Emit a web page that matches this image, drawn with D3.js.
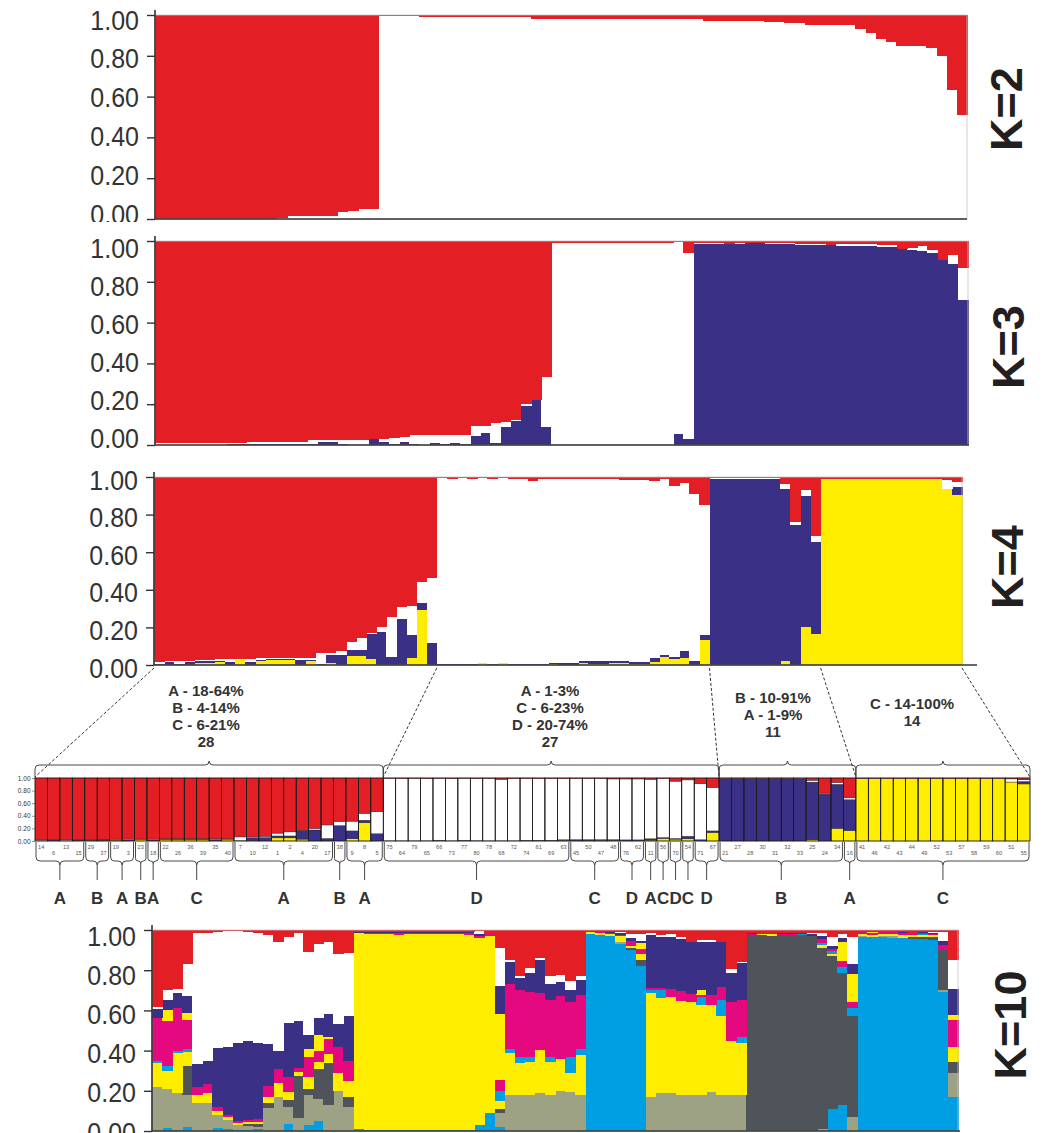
<!DOCTYPE html>
<html>
<head>
<meta charset="utf-8">
<script src="https://cdn.jsdelivr.net/npm/d3@7"></script>
<style>
body { margin: 0; background: #fff; }
svg { display: block; font-family: "Liberation Sans", Arial, sans-serif; }
</style>
</head>
<body>
<svg id="chart" width="1044" height="1133"></svg>
<script>
var tickValues = [0, 0.2, 0.4, 0.6, 0.8, 1.0];

// K=2 : [white, red]
var k2Colors = ["#ffffff", "#e31e24"];
var k2Rows = [
  [0,1],[0,1],[0,1],[0,1],[0,1],[0,1],[0,1],[0,1],[0,1],[0,1],[0,1],[0,1],
  [.005,.995],[.015,.985],[.015,.985],[.015,.985],[.015,.985],[.015,.985],
  [.035,.965],[.04,.96],[.05,.95],[.05,.95],
  [.995,.005],[.995,.005],[.995,.005],[.995,.005],
  [.99,.01],[.99,.01],[.99,.01],[.99,.01],[.99,.01],[.99,.01],[.99,.01],[.99,.01],[.99,.01],[.99,.01],[.99,.01],
  [.98,.02],[.98,.02],[.98,.02],[.98,.02],[.98,.02],[.98,.02],[.98,.02],[.98,.02],[.98,.02],
  [.98,.02],[.98,.02],[.98,.02],[.98,.02],[.98,.02],[.98,.02],[.98,.02],[.98,.02],
  [.973,.027],[.973,.027],[.973,.027],[.973,.027],[.973,.027],[.973,.027],
  [.965,.035],[.965,.035],[.96,.04],[.96,.04],
  [.95,.05],[.95,.05],[.95,.05],[.95,.05],[.95,.05],
  [.93,.07],[.91,.09],[.88,.12],[.87,.13],[.85,.15],[.85,.15],[.85,.15],[.84,.16],[.8,.2],[.63,.37],[.51,.49]
];

// K=3 : [blue, white, red]
var k3Colors = ["#3a3186", "#ffffff", "#e31e24"];
var k3Rows = [
  [0,.008,.992],[0,.008,.992],[0,.008,.992],[0,.008,.992],[0,.008,.992],[0,.008,.992],[0,.008,.992],
  [.005,.005,.99],[.005,.005,.99],
  [.005,.01,.985],[.005,.01,.985],[.005,.01,.985],[.005,.01,.985],[.005,.01,.985],[.005,.01,.985],
  [.005,.02,.975],[.015,.01,.975],[.015,.01,.975],[.005,.02,.975],[0,.025,.975],[0,.025,.975],
  [.03,0,.97],[.015,.015,.97],[.005,.03,.965],[.015,.025,.96],[.005,.042,.953],[0,.047,.953],
  [.01,.037,.953],[.005,.042,.953],[.01,.037,.953],[.005,.042,.953],
  [.045,.05,.905],[.06,.035,.905],[.01,.1,.89],[.09,.025,.885],[.12,.005,.875],[.19,.01,.8],[.22,0,.78],[.09,.245,.665],
  [0,.992,.008],[0,.992,.008],[0,.992,.008],[0,.992,.008],[0,.992,.008],[0,.992,.008],
  [0,.992,.008],[0,.992,.008],[0,.992,.008],[0,.992,.008],[0,.992,.008],[0,.992,.008],
  [.055,.94,.005],[.03,.91,.06],
  [.985,.005,.01],[.985,.005,.01],[.985,.005,.01],[.985,0,.015],[.985,.005,.01],[.988,0,.012],[.988,0,.012],
  [.985,.005,.01],[.985,.005,.01],[.985,.005,.01],[.98,.005,.015],[.98,.005,.015],[.98,.005,.015],[.98,0,.02],
  [.975,.01,.015],[.975,.01,.015],[.975,.01,.015],[.975,.01,.015],[.97,.01,.02],[.97,.01,.02],
  [.96,0,.04],[.955,.01,.035],[.95,.025,.025],[.94,.015,.045],[.905,0,.095],[.885,.045,.07],[.71,.16,.13]
];

// K=4 : [yellow, blue, white, red]
var k4Colors = ["#ffed00", "#3a3186", "#ffffff", "#e31e24"];
var k4Rows = [
  [0,.005,.013,.982],[0,.015,.005,.98],[0,.005,.015,.98],[0,.015,.005,.98],[.012,.008,.005,.975],
  [.008,.015,.002,.975],[.015,.005,.01,.97],[0,.015,.015,.97],[.025,0,.005,.97],[0,.015,.015,.97],
  [.02,.008,.007,.965],[.025,.005,.005,.965],[.025,.005,.005,.965],[.025,.005,.005,.965],[0,.025,.01,.965],
  [.02,.005,.01,.965],[0,.005,.06,.935],[.008,.045,.012,.935],[0,.055,.02,.925],[.05,.03,.045,.875],
  [.05,.03,.065,.855],[.03,.135,.005,.83],[0,.175,.025,.8],[0,.04,.215,.745],[0,.245,.065,.69],
  [.035,.125,.155,.685],[.29,.04,.11,.56],[0,.115,.35,.535],
  [0,.003,.992,.005],[0,.003,.987,.01],[0,.003,.992,.005],[0,.003,.987,.01],[.01,.003,.982,.005],
  [0,.003,.987,.01],[.01,.003,.982,.005],[0,.005,.985,.01],[0,.003,.987,.01],[0,.003,.977,.02],
  [0,.003,.987,.01],[.005,.007,.978,.01],[0,.012,.978,.01],[0,.012,.978,.01],[.01,.01,.97,.01],
  [.005,.017,.968,.01],[.005,.017,.968,.01],[.012,.01,.968,.01],[.012,.01,.963,.015],[.005,.013,.967,.015],
  [.005,.013,.967,.015],[.015,.02,.945,.02],[.04,.015,.935,.01],[.03,.01,.91,.05],[.035,.04,.895,.03],
  [0,.02,.89,.09],[.135,.025,.69,.15],
  [0,.99,.005,.005],[0,.99,.005,.005],[0,.99,.005,.005],[0,.99,.005,.005],[0,.99,.005,.005],[0,.99,.005,.005],[0,.99,.005,.005],
  [.02,.915,.03,.035],[0,.745,.015,.24],[.2,.7,.03,.07],[.165,.49,.03,.315],
  [.99,0,0,.01],[.99,0,0,.01],[.99,0,0,.01],[.99,0,0,.01],[.99,0,0,.01],[.99,0,0,.01],
  [.99,0,0,.01],[.99,0,0,.01],[.99,0,0,.01],[.99,0,0,.01],[.99,0,0,.01],[.99,0,0,.01],
  [.936,0,.05,.014],[.906,.039,.027,.028]
];

// K=10 : [cyan, khaki, dark grey, yellow, cyan b, magenta, yellow b, blue, white, red]
var k10Colors = ["#009fe3", "#9ca283", "#4e5459", "#ffed00", "#009fe3", "#e5097f", "#ffed00", "#3a3186", "#ffffff", "#e31e24"];
var k10Rows = [
  [0,.22,0,.12,.01,.21,0,.045,.01,.385],
  [.013,.194,0,.093,.025,.222,.053,.05,.05,.3],
  [.005,.185,0,.2,.01,.21,0,.075,.02,.295],
  [.02,.16,.143,.072,.011,.146,.033,.087,.158,.17],
  [0,.14,0,.04,0,.04,0,.113,.654,.013],
  [0,.14,0,.047,0,.047,0,.116,.633,.017],
  [.015,.065,0,.02,0,.02,0,.295,.575,.01],
  [.01,.045,0,.013,0,.01,0,.342,.575,.005],
  [.005,.025,0,.01,0,.01,0,.386,.561,.003],
  [.005,.02,.01,.01,0,.01,0,.391,.544,.01],
  [.01,.01,.015,.01,0,.015,0,.38,.547,.013],
  [0,.113,.027,.03,0,.054,0,.209,.542,.025],
  [0,.17,0,.067,0,.073,0,.09,.54,.06],
  [.035,.085,.034,.042,0,.074,0,.265,.432,.033],
  [0,.063,.21,.02,0,.02,0,.234,.436,.017],
  [.03,.15,.03,.06,0,.1,.04,.07,.41,.11],
  [.05,.11,.15,.035,0,.055,.08,.08,.37,.07],
  [0,.13,.21,.045,0,.075,.01,.11,.36,.06],
  [0,.2,0,.09,0,.13,0,.11,.35,.12],
  [0,.12,.05,.08,0,.1,0,.22,.315,.115],
  [.01,0,0,.975,0,0,0,.005,0,.01],
  [.005,0,0,.975,0,.005,0,.005,0,.01],
  [.003,0,0,.977,0,.005,0,.005,0,.01],
  [.005,0,0,.975,0,.005,0,.005,0,.01],
  [.005,0,0,.972,0,.008,0,.005,0,.01],
  [.003,0,0,.977,0,.005,0,.005,0,.01],
  [.005,0,0,.975,0,.005,0,.005,0,.01],
  [.005,0,0,.975,0,.005,0,.005,0,.01],
  [.003,0,0,.977,0,.005,0,.005,0,.01],
  [.005,0,0,.975,0,.005,0,.005,0,.01],
  [.005,0,0,.975,0,.005,0,.005,0,.01],
  [.005,0,0,.972,0,.008,0,.005,0,.01],
  [.03,0,0,.93,0,.01,0,.01,.015,.005],
  [.09,0,0,.88,0,.01,0,0,0,.02],
  [.02,.07,.02,.04,.05,.055,.325,.14,.19,.09],
  [0,.18,0,.21,.02,.32,0,.11,.01,.15],
  [0,.18,0,.16,.03,.33,0,.06,.01,.23],
  [0,.18,0,.165,.025,.323,0,.091,.026,.19],
  [0,.187,0,.216,0,.282,0,.165,.01,.14],
  [0,.18,0,.165,.025,.28,0,.08,.04,.23],
  [0,.2,0,.16,0,.31,0,.07,.035,.225],
  [0,.195,0,.095,.08,.27,0,.06,.045,.255],
  [0,.18,0,.198,.032,.267,0,.073,.02,.23],
  [.98,0,0,.01,0,0,0,0,0,.01],
  [.975,0,0,.01,0,.005,0,0,0,.01],
  [.97,0,0,.01,0,.005,0,.005,0,.01],
  [.93,.01,0,.03,0,.005,0,.01,.005,.01],
  [.9,0,.01,.01,0,.025,0,.015,.02,.02],
  [.82,0,.03,.03,0,.025,.03,.01,.035,.02],
  [0,.17,0,.515,.015,.01,0,.265,.01,.015],
  [0,.187,0,.473,.04,.01,0,.257,.008,.025],
  [0,.19,0,.475,0,.04,0,.262,.013,.02],
  [0,.18,0,.468,0,.05,0,.255,.01,.037],
  [0,.18,0,.46,0,.04,0,.26,0,.06],
  [0,.18,0,.447,.038,.01,.025,.24,.01,.05],
  [0,.196,0,.431,0,.05,0,.265,.008,.05],
  [0,.18,0,.39,.08,.065,0,.225,0,.06],
  [0,.18,0,.27,0,.194,0,.14,.02,.196],
  [0,.18,0,.256,.034,.182,0,.182,.008,.158],
  [0,0,.975,0,0,.005,0,.005,0,.015],
  [0,0,.975,.005,0,.005,0,0,0,.015],
  [0,0,.97,.01,0,.005,0,0,0,.015],
  [0,0,.975,0,0,.005,0,.005,0,.015],
  [0,0,.975,0,0,.005,0,.005,0,.015],
  [0,0,.975,0,.005,0,0,.005,0,.015],
  [0,0,.97,0,0,0,0,.01,.005,.015],
  [0,.01,.9,.015,.01,.02,0,.015,.015,.015],
  [.11,0,.76,.01,.015,.01,0,.017,.041,.037],
  [.13,0,.655,0,.03,.03,.095,.022,.018,.02],
  [0,.068,.502,0,.04,.03,.14,.05,.137,.033],
  [.965,.005,0,.01,0,.01,0,0,0,.01],
  [.965,0,0,.01,0,.01,.005,0,0,.01],
  [.965,.005,0,.01,0,.01,0,0,0,.01],
  [.96,.01,0,.01,0,.01,0,0,0,.01],
  [.96,0,0,.015,0,.01,0,.005,0,.01],
  [.955,0,.01,.01,0,.01,0,0,0,.015],
  [.955,0,.01,.01,.005,.005,0,.005,0,.01],
  [.95,0,.015,.01,0,.005,0,.005,.005,.01],
  [.69,.013,.197,0,0,.025,0,.02,.045,.01],
  [.17,.12,.055,.075,0,.132,.025,.129,.144,.15]
];

// sample ids of the K=4 detail strip, in plotting order
var sampleIds = [
  14,6,13,15,29,37,19,3,23,18,22,26,36,39,35,40,7,10,12,1,2,4,20,17,38,9,8,5,
  75,64,79,65,66,73,77,80,78,68,72,74,61,69,63,45,50,47,48,76,62,11,56,70,54,71,67,
  21,27,28,30,31,32,33,25,24,34,16,
  41,46,42,43,44,49,52,53,57,58,59,60,51,55
];
var subGroupLetters = ["A","B","A","B","A","C","A","B","A", "D","C","D","A","C","D","C","D", "B","A", "C"];
var subGroupSizes   = [4,2,2,1,1,6,8,1,3, 15,4,2,1,1,1,1,2, 10,1, 14];
var clusterSizes = [28, 27, 11, 14];
var clusterText = [
  ["A - 18-64%", "B - 4-14%", "C - 6-21%", "28"],
  ["A - 1-3%", "C - 6-23%", "D - 20-74%", "27"],
  ["B - 10-91%", "A - 1-9%", "11"],
  ["C - 14-100%", "14"]
];

// layout (labTop / labBot: where the 1.00 and 0.00 labels sit)
var panels = [
  {rows: k2Rows, colors: k2Colors, x0: 155, x1: 967, y0: 219, y1: 15, baseEnd: 967, label: "K=2", lx: 1006, ly: 109, clip: 222, labTop: 19, labBot: 213},
  {rows: k3Rows, colors: k3Colors, x0: 155, x1: 968, y0: 445, y1: 241, baseEnd: 969, label: "K=3", lx: 1008, ly: 347, labTop: 247, labBot: 437},
  {rows: k4Rows, colors: k4Colors, x0: 154, x1: 962, y0: 665, y1: 477, baseEnd: 977, label: "K=4", lx: 1007, ly: 567, labTop: 479, labBot: 667},
  {rows: k10Rows, colors: k10Colors, x0: 152, x1: 958, y0: 1131, y1: 930, baseEnd: 960, label: "K=10", lx: 1010, ly: 1025, labTop: 935, labBot: 1131}
];
var textPos = [{x: 206, y: 696}, {x: 550, y: 696}, {x: 773, y: 703}, {x: 912, y: 709}];

var svg = d3.select("#chart");
var defs = svg.append("defs");

function stackRows(rows, n) {
  return d3.stack().keys(d3.range(n)).value(function(d, k) { return d[k]; })(rows);
}

var scales = [];

panels.forEach(function(p, pi) {
  var g = svg.append("g");
  if (p.clip) {
    defs.append("clipPath").attr("id", "clip" + pi)
      .append("rect").attr("x", 0).attr("y", 0).attr("width", 1044).attr("height", p.clip);
    g.attr("clip-path", "url(#clip" + pi + ")");
  }

  var x = d3.scaleBand().domain(d3.range(p.rows.length)).range([p.x0, p.x1]);
  var y = d3.scaleLinear().domain([0, 1]).range([p.y0, p.y1]).clamp(true);
  var yLab = d3.scaleLinear().domain([0, 1]).range([p.labBot, p.labTop]);
  scales.push(x);

  var series = stackRows(p.rows, p.colors.length);

  g.append("g")
    .attr("shape-rendering", "crispEdges")
    .selectAll("g")
    .data(series)
    .enter().append("g")
      .attr("fill", function(d) { return p.colors[d.key]; })
    .selectAll("rect")
    .data(function(d) { return d.map(function(v, i) { return {v: v, i: i}; }).filter(function(e) { return e.v[1] > e.v[0]; }); })
    .enter().append("rect")
      .attr("x", function(d) { return x(d.i); })
      .attr("y", function(d) { return y(d.v[1]); })
      .attr("width", x.bandwidth() + 0.6)
      .attr("height", function(d) { return y(d.v[0]) - y(d.v[1]); });

  // light frame
  g.append("rect")
    .attr("x", p.x0).attr("y", p.y1)
    .attr("width", p.x1 - p.x0).attr("height", p.y0 - p.y1)
    .attr("fill", "none").attr("stroke", "#c4c4c4").attr("stroke-width", 0.8);

  var axis = g.append("g")
    .attr("transform", "translate(" + p.x0 + ",0)")
    .call(d3.axisLeft(y).tickValues(tickValues).tickFormat(d3.format(".2f")).tickSize(8).tickPadding(8).tickSizeOuter(0));
  axis.select(".domain").remove();
  axis.selectAll(".tick line").attr("stroke", "#333").attr("stroke-width", 1.4);
  axis.selectAll(".tick text")
    .attr("fill", "#333")
    .attr("y", function(d) { return yLab(d) - y(d); })
    .attr("dy", "0.36em")
    .style("font-size", "25px")
    .style("font-family", "'Liberation Sans', Arial, sans-serif")
    .style("transform-box", "fill-box")
    .style("transform-origin", "center")
    .style("transform", "scale(1,1.12)");

  g.append("line")
    .attr("x1", p.x0).attr("x2", p.x0)
    .attr("y1", p.y1 - 5).attr("y2", p.y0)
    .attr("stroke", "#333").attr("stroke-width", 1.6);
  g.append("line")
    .attr("x1", p.x0).attr("x2", p.baseEnd)
    .attr("y1", p.y0).attr("y2", p.y0)
    .attr("stroke", "#333").attr("stroke-width", 1.6);

  svg.append("text")
    .attr("transform", "translate(" + p.lx + "," + p.ly + ") rotate(-90)")
    .attr("text-anchor", "middle")
    .attr("dy", "0.36em")
    .attr("fill", "#231f20")
    .style("font-size", "45px")
    .style("font-weight", "bold")
    .text(p.label);
});

// ---- detail strip of K=4 ----
var xd = d3.scaleBand().domain(d3.range(k4Rows.length)).range([35, 1030]);
var yd = d3.scaleLinear().domain([0, 1]).range([841, 778]).clamp(true);
var dg = svg.append("g");

dg.append("g")
  .selectAll("g")
  .data(stackRows(k4Rows, 4))
  .enter().append("g")
    .attr("fill", function(d) { return k4Colors[d.key]; })
  .selectAll("rect")
  .data(function(d) { return d.map(function(v, i) { return {v: v, i: i}; }).filter(function(e) { return e.v[1] > e.v[0]; }); })
  .enter().append("rect")
    .attr("x", function(d) { return xd(d.i); })
    .attr("y", function(d) { return yd(d.v[1]); })
    .attr("width", xd.bandwidth())
    .attr("height", function(d) { return yd(d.v[0]) - yd(d.v[1]); })
    .attr("stroke", "#222")
    .attr("stroke-width", 0.4);

dg.append("g")
  .selectAll("rect")
  .data(k4Rows)
  .enter().append("rect")
    .attr("x", function(d, i) { return xd(i); })
    .attr("y", yd(1))
    .attr("width", xd.bandwidth())
    .attr("height", yd(0) - yd(1))
    .attr("fill", "none")
    .attr("stroke", "#1a1a1a")
    .attr("stroke-width", 0.7);

var daxis = dg.append("g")
  .attr("transform", "translate(35,0)")
  .call(d3.axisLeft(yd).tickValues(tickValues).tickFormat(d3.format(".2f")).tickSize(3).tickPadding(1.5).tickSizeOuter(0));
daxis.select(".domain").remove();
daxis.selectAll(".tick line").attr("stroke", "#444").attr("stroke-width", 0.6);
daxis.selectAll(".tick text").attr("fill", "#333").style("font-size", "6.5px");

// sample ids
dg.append("g")
  .selectAll("text")
  .data(sampleIds)
  .enter().append("text")
    .attr("x", function(d, i) { return xd(i) + xd.bandwidth() / 2; })
    .attr("y", function(d, i) { return i % 2 === 0 ? 849 : 855; })
    .attr("text-anchor", "middle")
    .attr("fill", "#555")
    .style("font-size", "5.6px")
    .text(function(d) { return d; });

// braces under sub groups with population letters
function braceDown(x0, x1, yTop, yMid) {
  var xm = (x0 + x1) / 2, r = Math.min(4, (x1 - x0) / 4);
  return "M" + x0 + "," + yTop + "V" + (yMid - r) +
    "Q" + x0 + "," + yMid + "," + (x0 + r) + "," + yMid +
    "H" + (xm - r) + "Q" + xm + "," + yMid + "," + xm + "," + (yMid + r) +
    "Q" + xm + "," + yMid + "," + (xm + r) + "," + yMid +
    "H" + (x1 - r) + "Q" + x1 + "," + yMid + "," + x1 + "," + (yMid - r) + "V" + yTop;
}
function braceUp(x0, x1, yBot, yMid) {
  var xm = (x0 + x1) / 2, r = 4;
  return "M" + x0 + "," + yBot + "V" + (yMid + r) +
    "Q" + x0 + "," + yMid + "," + (x0 + r) + "," + yMid +
    "H" + (xm - r) + "Q" + xm + "," + yMid + "," + xm + "," + (yMid - r) +
    "Q" + xm + "," + yMid + "," + (xm + r) + "," + yMid +
    "H" + (x1 - r) + "Q" + x1 + "," + yMid + "," + x1 + "," + (yMid + r) + "V" + yBot;
}

var start = 0;
subGroupSizes.forEach(function(n, k) {
  var x0 = xd(start) + 1, x1 = xd(start + n - 1) + xd.bandwidth() - 1;
  var xm = (x0 + x1) / 2, r = Math.min(4, (x1 - x0) / 4);
  dg.append("path").attr("d", braceDown(x0, x1, 842, 861))
    .attr("fill", "none").attr("stroke", "#333").attr("stroke-width", 0.9);
  dg.append("line").attr("x1", xm).attr("x2", xm).attr("y1", 861 + r).attr("y2", 880)
    .attr("stroke", "#333").attr("stroke-width", 0.9);
  dg.append("text").attr("x", xm).attr("y", 904)
    .attr("text-anchor", "middle").attr("fill", "#333")
    .style("font-size", "17px").style("font-weight", "bold")
    .text(subGroupLetters[k]);
  start += n;
});

// cluster braces, texts and dashed guides
var x4 = scales[2];
var bounds = [0];
clusterSizes.forEach(function(n) { bounds.push(bounds[bounds.length - 1] + n); });

bounds.forEach(function(b) {
  var top = b < 80 ? x4(b) : x4(79) + x4.bandwidth();
  var bot = b < 80 ? xd(b) : xd(79) + xd.bandwidth();
  dg.append("line")
    .attr("x1", top).attr("y1", 668).attr("x2", bot).attr("y2", 777)
    .attr("stroke", "#333").attr("stroke-width", 1).attr("stroke-dasharray", "3,2");
});

clusterSizes.forEach(function(n, k) {
  var x0 = xd(bounds[k]), x1 = xd(bounds[k + 1] - 1) + xd.bandwidth();
  dg.append("path").attr("d", braceUp(x0, x1, 778, 765))
    .attr("fill", "none").attr("stroke", "#333").attr("stroke-width", 0.9);
  dg.append("text")
    .attr("text-anchor", "middle").attr("fill", "#333")
    .style("font-size", "15px").style("font-weight", "bold")
    .selectAll("tspan")
    .data(clusterText[k])
    .enter().append("tspan")
      .attr("x", textPos[k].x)
      .attr("y", function(d, i) { return textPos[k].y + i * 17; })
      .text(function(d) { return d; });
});
</script>
</body>
</html>
